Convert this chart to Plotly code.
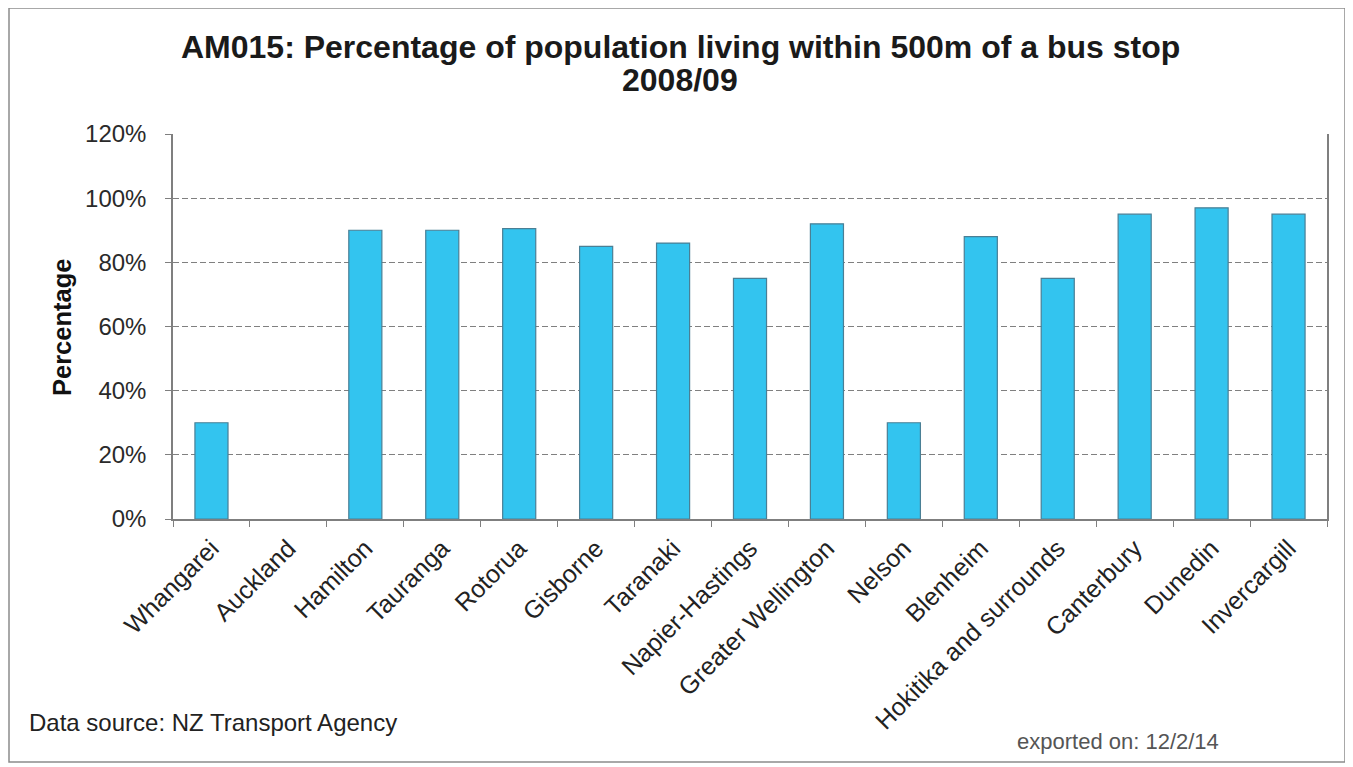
import plotly.graph_objects as go

categories = ["Whangarei", "Auckland", "Hamilton", "Tauranga", "Rotorua", "Gisborne",
              "Taranaki", "Napier-Hastings", "Greater Wellington", "Nelson", "Blenheim",
              "Hokitika and surrounds", "Canterbury", "Dunedin", "Invercargill"]
values = [30, None, 90, 90, 90.5, 85, 86, 75, 92, 30, 88, 75, 95, 97, 95]
y_ticks = [0, 20, 40, 60, 80, 100, 120]
y_tick_labels = [f"{v}%" for v in y_ticks]
title_lines = ["AM015: Percentage of population living within 500m of a bus stop", "2008/09"]

# page body has an 8px margin; figure is sized so it fills the viewport
W, H = 1345, 759
OFF = 8
L, R, T, B = 173 - OFF, 26, 134 - OFF, 248
pw, ph = W - L - R, H - T - B


def px(x):
    """reference-image x -> paper coordinate"""
    return (x - OFF - L) / pw


def py(y):
    """reference-image y -> paper coordinate"""
    return (H - B - (y - OFF)) / ph


FONT = "Liberation Sans, Arial, sans-serif"

fig = go.Figure()
fig.add_trace(go.Bar(
    x=categories, y=values, width=0.43,
    marker=dict(color="#33C4EF", line=dict(color="#4A7F95", width=1.2)),
))

fig.update_layout(
    width=W, height=H,
    margin=dict(l=L, r=R, t=T, b=B),
    paper_bgcolor="white", plot_bgcolor="white",
    showlegend=False,
    font=dict(family=FONT, color="#222"),
    xaxis=dict(
        type="category", showline=True, linecolor="#7f7f7f", linewidth=1.5,
        ticks="outside", ticklen=6, tickcolor="#7f7f7f", tickson="boundaries",
        tickangle=-45, tickfont=dict(size=25, color="#222"),
        ticklabelstandoff=3,
        showgrid=False, automargin=False,
    ),
    yaxis=dict(
        range=[0, 120], tickvals=y_ticks, ticktext=y_tick_labels,
        showline=True, linecolor="#7f7f7f", linewidth=1.5, mirror=True,
        ticks="outside", ticklen=6, tickcolor="#7f7f7f",
        ticklabelstandoff=14,
        tickfont=dict(size=24, color="#2a2a2a"),
        showgrid=True, gridcolor="#808080", griddash="6px,3px", gridwidth=1,
        zeroline=False, automargin=False,
    ),
)

fig.add_shape(type="rect", xref="paper", yref="paper",
              x0=px(9), x1=px(1345), y0=py(762), y1=py(8),
              line=dict(color="#8c8c8c", width=1.5), fillcolor="rgba(0,0,0,0)", layer="below")

for line, yc in zip(title_lines, [47, 80]):
    fig.add_annotation(text=line, xref="paper", yref="paper",
                       x=px(680), y=py(yc), xanchor="center", yanchor="middle", showarrow=False,
                       font=dict(family=FONT, size=32, color="#1a1a1a", weight="bold"))

fig.add_annotation(text="Percentage", xref="paper", yref="paper",
                   x=px(62), y=py(327), xanchor="center", yanchor="middle", showarrow=False,
                   textangle=-90, font=dict(family=FONT, size=25.5, color="#111", weight="bold"))
fig.add_annotation(text="Data source: NZ Transport Agency", xref="paper", yref="paper",
                   x=px(27), y=py(722), xanchor="left", yanchor="middle", showarrow=False,
                   font=dict(family=FONT, size=24, color="#222"))
fig.add_annotation(text="exported on: 12/2/14", xref="paper", yref="paper",
                   x=px(1015), y=py(741), xanchor="left", yanchor="middle", showarrow=False,
                   font=dict(family=FONT, size=22, color="#555"))

fig.write_html("out.html")
